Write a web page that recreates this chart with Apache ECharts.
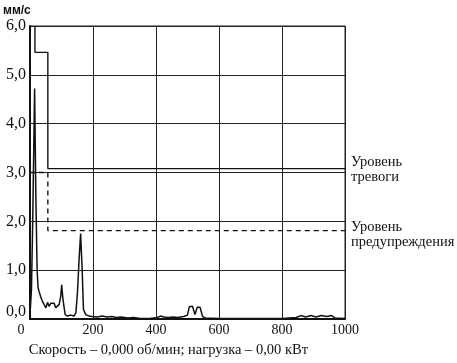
<!DOCTYPE html>
<html>
<head>
<meta charset="utf-8">
<script src="https://cdn.jsdelivr.net/npm/echarts@6/dist/echarts.min.js"></script>
<style>html,body{margin:0;padding:0;background:#fff;}#c{width:457px;height:363px;}</style>
</head>
<body>
<div id="c"></div>
<script>
// Spectrum: [speed, amplitude mm/s]
var spectrum = [
  [0,0.05],[5,0.6],[9,2.0],[15,4.72],[19,2.5],[23,1.0],[26,0.64],[29,0.57],[35,0.44],[40,0.36],
  [45,0.3],[51,0.23],[56,0.34],[61,0.26],[66,0.32],[72,0.28],[77,0.32],[82,0.23],[88,0.26],[93,0.3],
  [98,0.47],[101,0.7],[105,0.4],[112,0.09],[119,0.06],[130,0.08],[140,0.06],[146,0.13],[151,0.54],[156,1.2],
  [161,1.75],[166,1.0],[170,0.2],[177,0.09],[188,0.06],[198,0.05],[214,0.04],[230,0.06],[245,0.04],[260,0.05],
  [275,0.03],[290,0.04],[310,0.02],[330,0.03],[350,0.01],[380,0.01],[404,0.03],[415,0.06],[425,0.04],[440,0.03],
  [455,0.04],[470,0.03],[488,0.05],[500,0.08],[506,0.25],[516,0.26],[524,0.09],[531,0.24],[540,0.24],[548,0.05],
  [557,0.02],[600,0.01],[700,0.01],[800,0.01],[845,0.03],[860,0.07],[875,0.04],[892,0.07],[908,0.04],[925,0.07],
  [942,0.05],[958,0.07],[968,0.02],[1000,0.01]
];
// Alarm level (step line)
var alarmLevel = [[16,6.0],[16,5.46],[57,5.46],[57,3.08],[1000,3.08]];
// Warning level (dashed step line)
var warningLevel = [[0,3.0],[57,3.0],[57,1.81],[1000,1.81]];
var xTicks = [0,200,400,600,800,1000];
var yTicks = [0,1,2,3,4,5,6];
var yUnit = 'мм/с';
var xTitle = 'Скорость – 0,000 об/мин; нагрузка – 0,00 кВт';
var alarmLabel = 'Уровень\nтревоги';
var warningLabel = 'Уровень\nпредупреждения';

var serif = 'Liberation Serif';
var chart = echarts.init(document.getElementById('c'), null, {renderer:'canvas'});
chart.setOption({
  animation:false,
  backgroundColor:'#fff',
  grid:{left:29,right:112,top:26,bottom:43.5,show:true,borderColor:'#222',borderWidth:1},
  xAxis:{
    type:'value',min:xTicks[0],max:xTicks[xTicks.length-1],interval:200,
    axisLine:{show:true,lineStyle:{color:'#111',width:2}},
    axisTick:{show:false},
    splitLine:{show:true,lineStyle:{color:'#222',width:1}},
    axisLabel:{
      color:'#111',fontFamily:serif,fontSize:14,margin:4,
      formatter:function(v){ return v===xTicks[0] ? '{z|'+v+'}' : String(v); },
      rich:{z:{padding:[0,18,0,0],fontFamily:serif,fontSize:14,color:'#111'}}
    },
    name:xTitle,nameLocation:'middle',nameGap:24,
    nameTextStyle:{color:'#111',fontFamily:serif,fontSize:14.5,padding:[0,38,0,0]}
  },
  yAxis:{
    type:'value',min:yTicks[0],max:yTicks[yTicks.length-1],interval:1,
    axisLine:{show:true,lineStyle:{color:'#111',width:2}},
    axisTick:{show:false},
    splitLine:{show:true,lineStyle:{color:'#222',width:1}},
    axisLabel:{
      color:'#111',fontFamily:serif,fontSize:16,margin:4,
      formatter:function(v){ var s=v.toFixed(1).replace('.',','); return v===yTicks[0] ? '{z|'+s+'}' : s; },
      rich:{z:{padding:[0,0,14,0],fontFamily:serif,fontSize:16,color:'#111'}}
    },
    name:yUnit,nameLocation:'end',nameGap:9,
    nameTextStyle:{color:'#111',fontFamily:'Liberation Sans',fontWeight:'bold',fontSize:12,align:'center',padding:[0,26,0,0]}
  },
  series:[
    {type:'line',data:spectrum,symbol:'none',silent:true,
     lineStyle:{color:'#111',width:1.5}},
    {type:'line',data:alarmLevel,symbol:'none',silent:true,
     lineStyle:{color:'#111',width:1.4},
     endLabel:{show:true,formatter:alarmLabel,color:'#111',fontFamily:serif,fontSize:14.5,lineHeight:15,distance:6,align:'left',offset:[0,1]}},
    {type:'line',data:warningLevel,symbol:'none',silent:true,
     lineStyle:{color:'#111',width:1.4,type:[5,4]},
     endLabel:{show:true,formatter:warningLabel,color:'#111',fontFamily:serif,fontSize:14.5,lineHeight:15,distance:6,align:'left',offset:[0,4]}}
  ]
});
</script>
</body>
</html>
